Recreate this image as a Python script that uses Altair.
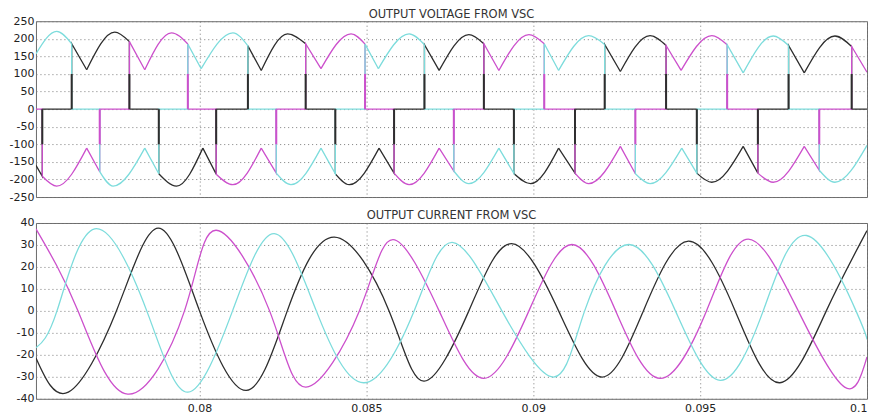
import altair as alt
import pandas as pd

# ---------------- data ----------------
T0, T1 = 0.0751, 0.1
X_TICKS = [0.08, 0.085, 0.09, 0.095, 0.1]
V_TICKS = list(range(-250, 251, 50))
I_TICKS = list(range(-40, 41, 10))
TITLE_V = "OUTPUT VOLTAGE FROM VSC"
TITLE_I = "OUTPUT CURRENT FROM VSC"

PHASES = ["a", "b", "c"]          # a = black, b = magenta, c = cyan
COLORS = {"a": "#2e2e2e", "b": "#cc50cc", "c": "#7ddcdc"}

# voltage pulses of each phase: key points (time, volts); between pulses the phase sits at 0
VA_PULSES = [
    [(0.07510, -160), (0.07529, -191)],
    [(0.07617, 186), (0.07662, 112), (0.07746, 219), (0.07790, 192)],
    [(0.07878, -184), (0.07931, -219), (0.08010, -111), (0.08050, -185)],
    [(0.08145, 180), (0.08185, 110), (0.08264, 214), (0.08318, 186)],
    [(0.08407, -184), (0.08449, -215), (0.08538, -111), (0.08583, -182)],
    [(0.08674, 183), (0.08718, 110), (0.08807, 212), (0.08852, 186)],
    [(0.08942, -183), (0.08992, -212), (0.09076, -111), (0.09125, -182)],
    [(0.09214, 184), (0.09261, 107), (0.09350, 209), (0.09398, 181)],
    [(0.09490, -182), (0.09535, -208), (0.09629, -106), (0.09673, -182)],
    [(0.09765, 181), (0.09812, 103), (0.09904, 208), (0.09954, 178)],
]
VB_PULSES = [
    [(0.07529, -191), (0.07572, -219), (0.07662, -111), (0.07701, -178)],
    [(0.07790, 192), (0.07836, 112), (0.07916, 217), (0.07965, 185)],
    [(0.08050, -185), (0.08100, -215), (0.08185, -111), (0.08230, -182)],
    [(0.08318, 186), (0.08364, 115), (0.08454, 214), (0.08496, 185)],
    [(0.08583, -182), (0.08628, -215), (0.08718, -111), (0.08762, -176)],
    [(0.08852, 186), (0.08897, 110), (0.08987, 212), (0.09033, 186)],
    [(0.09125, -182), (0.09166, -212), (0.09261, -106), (0.09306, -184)],
    [(0.09398, 181), (0.09443, 110), (0.09535, 209), (0.09581, 183)],
    [(0.09673, -182), (0.09719, -208), (0.09812, -106), (0.09857, -174)],
    [(0.09954, 178), (0.10000, 105)],
]
VC_PULSES = [
    [(0.07510, 157), (0.07572, 221), (0.07617, 186)],
    [(0.07701, -178), (0.07741, -219), (0.07836, -111), (0.07878, -184)],
    [(0.07965, 185), (0.08005, 115), (0.08100, 217), (0.08145, 180)],
    [(0.08230, -182), (0.08274, -215), (0.08364, -111), (0.08407, -184)],
    [(0.08496, 185), (0.08536, 115), (0.08628, 214), (0.08674, 183)],
    [(0.08762, -176), (0.08807, -212), (0.08897, -111), (0.08942, -183)],
    [(0.09033, 186), (0.09076, 110), (0.09166, 209), (0.09214, 184)],
    [(0.09306, -184), (0.09350, -212), (0.09445, -111), (0.09490, -182)],
    [(0.09581, 183), (0.09629, 103), (0.09719, 208), (0.09765, 181)],
    [(0.09857, -174), (0.09904, -208), (0.10000, -103)],
]
CREST = 195      # points beyond this are the rounded crests of a pulse
PARTIAL = 100    # height of the darker switching stub seen at the edges

# currents: extremes and zero crossings of each phase
IA_T = [0.07510, 0.07607, 0.07751, 0.07876, 0.08000, 0.08140, 0.08263, 0.08404, 0.08568, 0.08673,
        0.08807, 0.08935, 0.09076, 0.09206, 0.09330, 0.09465, 0.09605, 0.09739, 0.09878, 0.10000]
IA_V = [-21.4, -37.0, 0, 37.7, 0, -36.2, 0, 33.6, 0, -32.0, 0, 30.6, 0, -30.1, 0, 31.7, 0, -32.7, 0, 36.5]
IB_T = [0.07510, 0.07636, 0.07785, 0.07955, 0.08050, 0.08210, 0.08319, 0.08479, 0.08580, 0.08718,
        0.08852, 0.08987, 0.09116, 0.09247, 0.09380, 0.09519, 0.09644, 0.09794, 0.09933, 0.10000]
IB_V = [37.3, 0, -37.9, 0, 36.7, 0, -34.7, 0, 32.4, 0, -30.7, 0, 30.2, 0, -30.7, 0, 32.7, 0, -34.7, -21.0]
IC_T = [0.07510, 0.07573, 0.07686, 0.07842, 0.07965, 0.08099, 0.08224, 0.08350, 0.08493, 0.08643, 0.08757,
        0.08906, 0.09061, 0.09154, 0.09286, 0.09426, 0.09560, 0.09689, 0.09819, 0.09967, 0.10000]
IC_V = [-16.8, 0, 37.3, 0, -37.0, 0, 35.2, 0, -32.7, 0, 31.2, 0, -30.1, 0, 30.2, 0, -31.6, 0, 34.3, 0, -13.0]

# ---------------- build tables ----------------
def pulse_points(pulses):
    pts = []
    if pulses[0][0][0] > T0:
        pts.append((T0, 0.0))
    for p in pulses:
        if p[0][0] > T0:
            pts.append((p[0][0], 0.0))
        pts.extend(p)
        if p[-1][0] < T1:
            pts.append((p[-1][0], 0.0))
    if pts[-1][0] < T1:
        pts.append((T1, 0.0))
    return pts


def pieces(pts, phase):
    rows, pid, prev = [], -1, None
    for i in range(len(pts) - 1):
        a, b = pts[i], pts[i + 1]
        kind = "arc" if max(abs(a[1]), abs(b[1])) >= CREST else "lin"
        if kind != prev:
            pid += 1
            prev = kind
            rows.append(dict(t=a[0], v=a[1], phase=phase, piece=f"{phase}{pid}", kind=kind, i=len(rows)))
        rows.append(dict(t=b[0], v=b[1], phase=phase, piece=f"{phase}{pid}", kind=kind, i=len(rows)))
    return rows


def edges(pulses):
    out = []
    for p in pulses:
        if p[0][0] > T0:
            out.append((p[0][0], 1 if p[0][1] > 0 else -1))
        if p[-1][0] < T1:
            out.append((p[-1][0], 1 if p[-1][1] > 0 else -1))
    return out


V_PULSES = {"a": VA_PULSES, "b": VB_PULSES, "c": VC_PULSES}
vrows = []
for ph in PHASES:
    vrows += pieces(pulse_points(V_PULSES[ph]), ph)
vdf = pd.DataFrame(vrows)

ea = edges(VA_PULSES)
ea_times = {round(t, 6) for t, _ in ea}
stub_rows = [dict(t=t, v=0.0, y1=s * PARTIAL, phase="a") for t, s in ea]
stub_rows += [dict(t=t, v=0.0, y1=s * PARTIAL, phase="b") for t, s in edges(VB_PULSES)
              if round(t, 6) not in ea_times]
sdf = pd.DataFrame(stub_rows)

irows = []
for ph, ts, vs in (("a", IA_T, IA_V), ("b", IB_T, IB_V), ("c", IC_T, IC_V)):
    irows += [dict(t=t, v=v, phase=ph) for t, v in zip(ts, vs)]
idf = pd.DataFrame(irows)

# ---------------- chart ----------------
GRID = dict(grid=True, gridDash=[1, 3], gridColor="#7a7a7a", gridWidth=1, domain=False, ticks=False,
            labelOverlap=False, labelExpr="'' + datum.value")
xscale = alt.Scale(domain=[T0, T1], nice=False, zero=False)

x_top = alt.X("t:Q", scale=xscale, axis=alt.Axis(values=X_TICKS, labels=False, title=None, **GRID))
x_bot = alt.X("t:Q", scale=xscale, axis=alt.Axis(values=X_TICKS, labels=True, labelFlush=True,
                                                 labelPadding=4, title=None, **GRID))
YAX = dict(labelPadding=2, title=None, **GRID)
vscale = alt.Scale(domain=[-250, 250], nice=False)
y_top = alt.Y("v:Q", scale=vscale, axis=alt.Axis(values=V_TICKS, **YAX))
y_bot = alt.Y("v:Q", scale=alt.Scale(domain=[-40, 40], nice=False), axis=alt.Axis(values=I_TICKS, **YAX))

vlayers = []
for ph in PHASES:
    for kind, interp in (("lin", "linear"), ("arc", "monotone")):
        sub = vdf[(vdf.phase == ph) & (vdf.kind == kind)]
        vlayers.append(
            alt.Chart(sub).mark_line(interpolate=interp, strokeWidth=1.3, color=COLORS[ph], clip=True)
            .encode(x=x_top, y=y_top, detail="piece:N", order="i:Q")
        )
for ph in ["b", "a"]:
    sub = sdf[sdf.phase == ph]
    vlayers.append(
        alt.Chart(sub).mark_rule(strokeWidth=2, color=COLORS[ph])
        .encode(x=x_top, y=y_top, y2="y1:Q")
    )

title_style = dict(fontSize=11.5, font="DejaVu Sans", fontWeight="normal", color="#333333",
                   offset=-14, baseline="alphabetic", anchor="middle", frame="group")

top = alt.layer(*vlayers).properties(width=832, height=176, title=alt.TitleParams(TITLE_V, **title_style))

ilayers = []
for ph in PHASES:
    sub = idf[idf.phase == ph]
    ilayers.append(
        alt.Chart(sub).mark_line(interpolate="natural", strokeWidth=1.3, color=COLORS[ph], clip=True)
        .encode(x=x_bot, y=y_bot)
    )
bottom = alt.layer(*ilayers).properties(width=832, height=176, title=alt.TitleParams(TITLE_I, **title_style))

chart = (
    alt.vconcat(top, bottom, spacing=7)
    .properties(padding={"left": 0, "right": 0, "top": 0, "bottom": 0}, background="white")
    .configure_view(stroke="#6a6a6a", strokeWidth=1)
    .configure_axis(labelFont="DejaVu Sans", labelFontSize=11, labelColor="#222222")
)

chart.save("out.html", embed_options={"renderer": "svg", "actions": False})
